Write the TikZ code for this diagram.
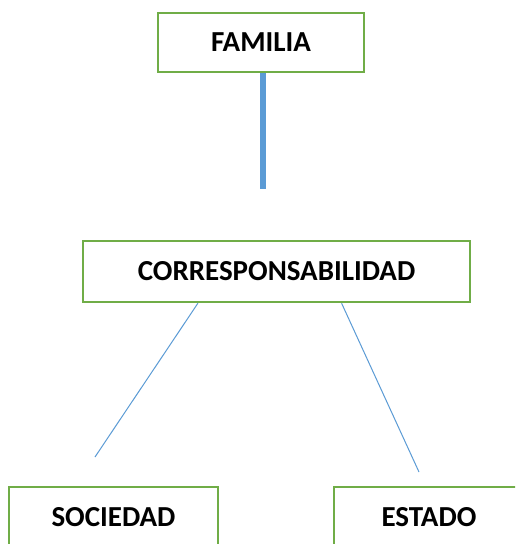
\documentclass[tikz,border=0pt]{standalone}
\usepackage{fontspec}
\setmainfont{Carlito}
\definecolor{boxgreen}{HTML}{70AD47}
\definecolor{lineblue}{HTML}{5B9BD5}
\tikzset{
  concept/.style={draw=boxgreen, line width=2.5pt, fill=white, inner sep=0pt,
    font=\fontsize{29}{32}\selectfont\bfseries},
  link/.style={draw=lineblue, line width=1pt}
}
\begin{document}
\begin{tikzpicture}[x=1pt, y=-1pt]
  \clip (0,0) rectangle (515,544);
  \fill[white] (0,0) rectangle (515,544);
  \node[concept, minimum width=206pt, minimum height=59pt] (familia) at (261,42.5) {FAMILIA};
  \node[concept, minimum width=387pt, minimum height=61pt] (corres) at (276.5,271.5) {CORRESPONSABILIDAD};
  \node[concept, minimum width=209pt, minimum height=60pt] (sociedad) at (113.5,517) {SOCIEDAD};
  \node[concept, minimum width=190pt, minimum height=60pt] (estado) at (429,517) {ESTADO};
  \coordinate (famend) at (263,189);
  \coordinate (socend) at (95,457);
  \coordinate (estend) at (419,472);
  \draw[link, line width=6pt] (familia.south -| famend) -- (famend);
  \draw[link] (corres.-158) -- (socend);
  \draw[link] (corres.-26) -- (estend);
\end{tikzpicture}
\end{document}
